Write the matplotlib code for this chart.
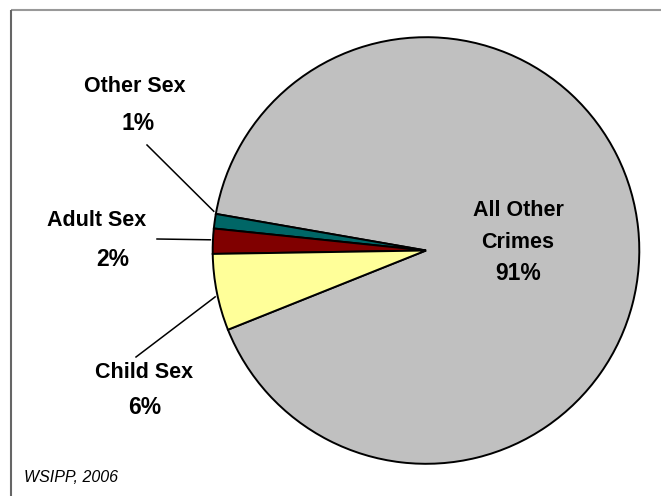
#! /usr/bin/env python3

import numpy as np
import matplotlib
matplotlib.use("Agg")
import matplotlib.pyplot as plt

# data
categories = ["All Other Crimes", "Other Sex", "Adult Sex", "Child Sex"]
shares = [91.2, 1.1, 1.9, 5.8]
colors = ["#C0C0C0", "#006666", "#800000", "#FFFF99"]
source = "WSIPP, 2006"

W, H = 661, 496


def py(y):
    # image pixel row -> axes y
    return H - y


def main():
    plt.rcParams['font.family'] = ['Liberation Sans', 'DejaVu Sans']

    fig = plt.figure(figsize=(W / 100, H / 100), dpi=100)
    ax = fig.add_axes([0, 0, 1, 1])

    center = (426, py(250.5))
    radius = 213.3
    wedges, _ = ax.pie(shares, colors=colors, startangle=201.8,
                       counterclock=True, center=center, radius=radius,
                       wedgeprops=dict(edgecolor='black', linewidth=1.4))

    # pie() resets the limits, so set them afterwards
    ax.set_xlim(0, W)
    ax.set_ylim(0, H)
    ax.set_aspect('equal')
    ax.axis('off')

    # outer frame (only top and left edges show in the crop)
    ax.plot([11, W], [py(10), py(10)], color='#999999', lw=1.5,
            solid_capstyle='butt')
    ax.plot([11, 11], [py(10), 0], color='#666666', lw=1.5,
            solid_capstyle='butt')

    bold = dict(fontsize=15.5, fontweight='bold', ha='center', va='center')
    big = dict(bold, fontsize=16.5)

    # label name pos, percent pos, leader start, anchor fraction on wedge
    layout = {
        "Other Sex": ((135, 87), (138, 123), (147, 145), -0.15),
        "Adult Sex": ((97, 220), (113, 259), (157, 239), 0.45),
        "Child Sex": ((144, 372), (145, 407), (136, 357), 0.55),
    }

    for w, name, val in zip(wedges, categories, shares):
        pct = f"{val:.0f}%"
        if name not in layout:
            ax.text(518, py(210), "All Other", **bold)
            ax.text(518, py(242), "Crimes", **bold)
            ax.text(518, py(274), pct, **big)
            continue
        name_xy, pct_xy, start, frac = layout[name]
        ax.text(name_xy[0], py(name_xy[1]), name, **bold)
        ax.text(pct_xy[0], py(pct_xy[1]), pct, **big)
        ang = np.deg2rad(w.theta1 + frac * (w.theta2 - w.theta1))
        r = radius * 1.012
        ex = center[0] + r * np.cos(ang)
        ey = center[1] + r * np.sin(ang)
        ax.plot([start[0], ex], [py(start[1]), ey], color='black', lw=1.1)

    ax.text(24, py(477), source, fontsize=11.5, fontstyle='italic',
            ha='left', va='center')

    fig.savefig("out.png", dpi=100)


if __name__ == "__main__":
    main()
